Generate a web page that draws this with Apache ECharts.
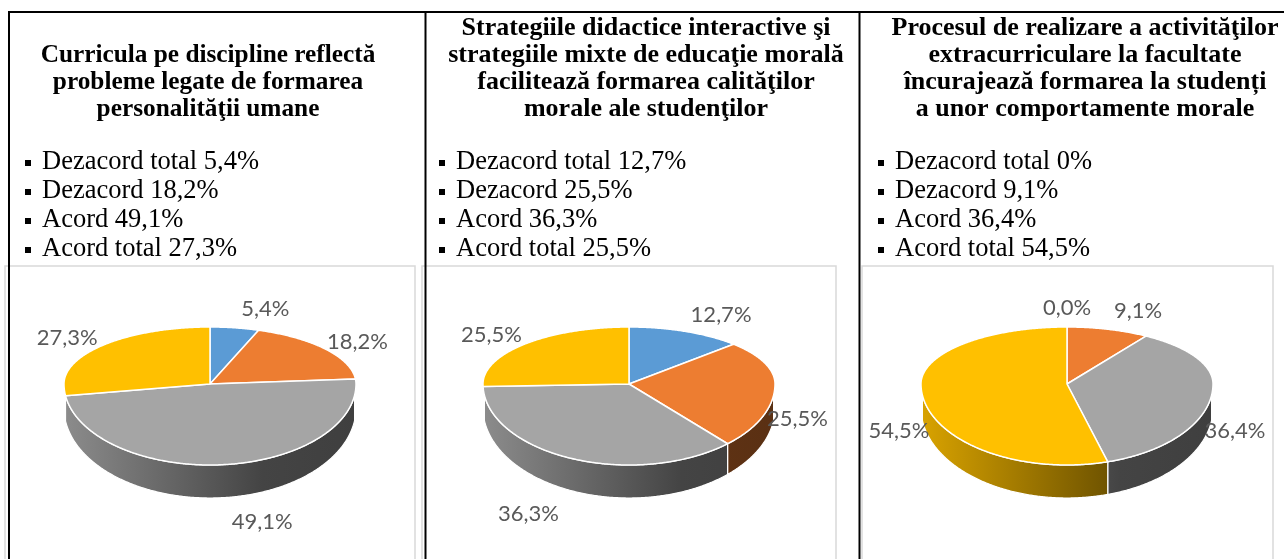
<!DOCTYPE html>
<html>
<head>
<meta charset="utf-8">
<script src="https://cdn.jsdelivr.net/npm/echarts@6/dist/echarts.min.js"></script>
<style>
  html, body { margin: 0; padding: 0; background: #fff; }
  #chart { width: 1284px; height: 559px; }
</style>
</head>
<body>
<div id="chart"></div>
<script>
// categorii si culori (Excel)
const categories = ['Dezacord total', 'Dezacord', 'Acord', 'Acord total']
const sliceColors = ['#5B9BD5', '#ED7D31', '#A5A5A5', '#FFC000']

const curriculaTitle = ['Curricula pe discipline reflectă', 'probleme legate de formarea', 'personalităţii umane']
const curriculaValues = [5.4, 18.2, 49.1, 27.3]

const strategiiTitle = ['Strategiile didactice interactive şi', 'strategiile mixte de educaţie morală', 'facilitează formarea calităţilor', 'morale ale studenţilor']
const strategiiValues = [12.7, 25.5, 36.3, 25.5]

const activitatiTitle = ['Procesul de realizare a activităţilor', 'extracurriculare la facultate', 'încurajează formarea la studenți', 'a unor comportamente morale']
const activitatiValues = [0, 9.1, 36.4, 54.5]

// geometrie pie 3D
const RX = 146
const RY_BACK = 57
const RY_FRONT = 81
const SIDE_DEPTH = 24
const BOTTOM_RY = 90
const PIE_CY = 384
const SILHOUETTE = 8 * Math.PI / 180 // perspectiva: peretele incepe putin spre fata

const columns = [
  { title: curriculaTitle, values: curriculaValues, cx: 210, titleX: 208, titleSize: 25.3, bulletX: 25, textX: 42, box: [5, 415] },
  { title: strategiiTitle, values: strategiiValues, cx: 629, titleX: 646, titleSize: 26, bulletX: 439, textX: 456, box: [422, 836] },
  { title: activitatiTitle, values: activitatiValues, cx: 1067, titleX: 1085, titleSize: 26, bulletX: 878, textX: 895, box: [862, 1273] }
]

const shade = (hex, f) => {
  const n = parseInt(hex.slice(1), 16)
  const r = Math.round(((n >> 16) & 255) * f)
  const g = Math.round(((n >> 8) & 255) * f)
  const b = Math.round((n & 255) * f)
  return 'rgb(' + r + ',' + g + ',' + b + ')'
}

const rimTop = (cx, a) => {
  const c = Math.cos(a)
  return [cx + RX * Math.sin(a), PIE_CY - (c >= 0 ? RY_BACK : RY_FRONT) * c]
}
const rimBottom = (cx, a) => [cx + RX * Math.sin(a), PIE_CY + SIDE_DEPTH - BOTTOM_RY * Math.cos(a)]

const STEP = Math.PI / 360

const makeRenderItem = (col) => (params, api) => {
  const values = col.values
  const total = values.reduce((s, v) => s + v, 0)
  const i = params.dataIndex
  let before = 0
  for (let k = 0; k < i; k++) before += values[k]
  const a0 = before / total * Math.PI * 2
  const a1 = (before + values[i]) / total * Math.PI * 2
  const color = sliceColors[i]
  const cx = col.cx
  const children = []

  // fata de sus
  if (a1 > a0) {
    const pts = [[cx, PIE_CY]]
    for (let a = a0; a < a1; a += STEP) pts.push(rimTop(cx, a))
    pts.push(rimTop(cx, a1))
    children.push({
      type: 'polygon',
      shape: { points: pts },
      style: { fill: color, stroke: '#fff', lineWidth: 1.5, lineJoin: 'round' },
      z2: 5
    })
  }

  // peretele lateral (doar partea vizibila din fata)
  const w0 = Math.max(a0, Math.PI / 2 + SILHOUETTE)
  const w1 = Math.min(a1, Math.PI * 1.5 - SILHOUETTE)
  if (w1 - w0 > 0.01) {
    const top = []
    const bottom = []
    for (let a = w0; a < w1; a += STEP) {
      top.push(rimTop(cx, a))
      bottom.push(rimBottom(cx, a))
    }
    top.push(rimTop(cx, w1))
    bottom.push(rimBottom(cx, w1))
    children.push({
      type: 'polygon',
      shape: { points: top.concat(bottom.reverse()) },
      style: {
        fill: new echarts.graphic.LinearGradient(cx - RX, 0, cx + RX, 0, [
          { offset: 0, color: shade(color, 0.85) },
          { offset: 0.68, color: shade(color, 0.41) },
          { offset: 1, color: shade(color, 0.38) }
        ], true),
        stroke: '#fff',
        lineWidth: 1.2
      },
      z2: 2
    })
  }

  // eticheta (pozitie "best fit" aproximativa)
  const mid = (a0 + a1) / 2
  const s = Math.sin(mid)
  const c = Math.cos(mid)
  const side = Math.abs(s) > 0.05 ? Math.sign(s) : 0
  let lx, ly
  if (c >= 0) {
    lx = cx + (RX - 8) * s + 8 * side
    ly = PIE_CY + 12 - 88.5 * c
  } else {
    lx = cx + (RX - 8) * s + 50 * s * c * c
    ly = PIE_CY + 32 + 106.7 * (-c)
  }
  children.push({
    type: 'text',
    x: lx,
    y: ly,
    style: {
      text: values[i].toFixed(1).replace('.', ',') + '%',
      fill: '#595959',
      font: '22px Lato',
      align: side > 0 ? 'left' : (side < 0 ? 'right' : 'center'),
      verticalAlign: 'middle'
    },
    z2: 10
  })

  return { type: 'group', children }
}

// elemente grafice: chenare, titluri, liste
const graphics = []

columns.forEach(col => {
  graphics.push({
    type: 'rect',
    shape: { x: col.box[0], y: 266, width: col.box[1] - col.box[0], height: 320 },
    style: { fill: '#fff', stroke: '#d9d9d9', lineWidth: 1.5 },
    z: 0
  })
})

const lines = [
  [8, 12, 1284, 12],
  [9, 12, 9, 559],
  [425.5, 12, 425.5, 559],
  [859.5, 12, 859.5, 559]
]
lines.forEach(l => {
  graphics.push({
    type: 'line',
    shape: { x1: l[0], y1: l[1], x2: l[2], y2: l[3] },
    style: { stroke: '#000', lineWidth: 2 },
    z: 5
  })
})

columns.forEach(col => {
  const n = col.title.length
  col.title.forEach((t, k) => {
    const baseline = 115.5 - (n - 1 - k) * 27
    graphics.push({
      type: 'text',
      x: col.titleX,
      y: baseline - 6,
      style: {
        text: t,
        font: 'bold ' + col.titleSize + 'px "Liberation Serif"',
        fill: '#000',
        align: 'center',
        verticalAlign: 'middle'
      },
      z: 5
    })
  })
  categories.forEach((cat, k) => {
    const baseline = 168 + k * 29
    graphics.push({
      type: 'rect',
      shape: { x: col.bulletX, y: baseline - 8, width: 6, height: 6 },
      style: { fill: '#000' },
      z: 5
    })
    graphics.push({
      type: 'text',
      x: col.textX,
      y: baseline - 6,
      style: {
        text: cat + ' ' + String(col.values[k]).replace('.', ',') + '%',
        font: '26.5px "Liberation Serif"',
        fill: '#000',
        align: 'left',
        verticalAlign: 'middle'
      },
      z: 5
    })
  })
})

const chart = echarts.init(document.getElementById('chart'))

const option = {
  animation: false,
  backgroundColor: '#fff',
  graphic: { elements: graphics },
  series: columns.map(col => ({
    type: 'custom',
    coordinateSystem: 'none',
    silent: true,
    z: 3,
    data: col.values,
    renderItem: makeRenderItem(col)
  }))
}

chart.setOption(option)
</script>
</body>
</html>
